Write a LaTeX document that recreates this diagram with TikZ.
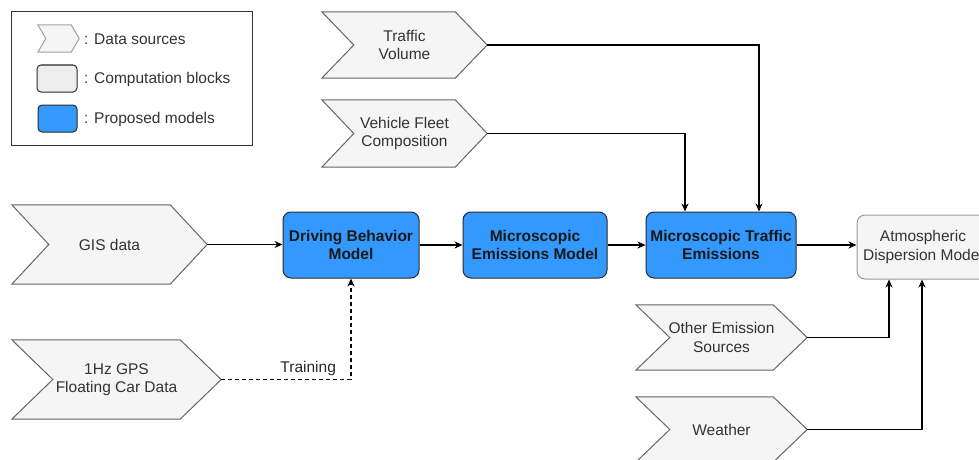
\documentclass[tikz,border=0pt]{standalone}
\usepackage{fontspec}
\setmainfont{Liberation Sans}
\usetikzlibrary{arrows.meta,backgrounds}
\definecolor{blu}{HTML}{3399FF}
\definecolor{chevfill}{HTML}{F5F5F5}
\definecolor{chevdraw}{HTML}{666666}
\definecolor{legchev}{HTML}{A0A0A0}
\definecolor{txt}{HTML}{333333}
\definecolor{modelline}{HTML}{2B2B2B}
\definecolor{compline}{HTML}{9A9A9A}
\newcommand\chevbg[3]{%
  \begin{pgfonlayer}{background}
  \draw[#3] (#1.north west) -- ([xshift=-#2]#1.north east) -- (#1.east)
     -- ([xshift=-#2]#1.south east) -- (#1.south west) -- ([xshift=#2]#1.west) -- cycle;
  \end{pgfonlayer}}
\tikzset{
  base/.style={font=\fontsize{15.5}{18.5}\selectfont, align=center, inner sep=0pt},
  chevtext/.style={base, text=txt},
  chevline/.style={draw=chevdraw, fill=chevfill, line width=1pt},
  legchevline/.style={draw=legchev, fill=chevfill, line width=1pt},
  model/.style={base, draw=modelline, fill=blu, rounded corners=8pt, line width=1pt,
     font=\fontsize{15.5}{18.5}\selectfont\bfseries, text=black!90},
  comp/.style={base, draw=compline, fill=chevfill, rounded corners=8pt, line width=1pt, text=txt},
  conn/.style={line width=1.1pt, -{Stealth[length=8pt,width=7pt]}},
  dashconn/.style={conn, dash pattern=on 4pt off 3pt},
}
\begin{document}
\begin{tikzpicture}[x=1pt,y=-1pt]
\useasboundingbox (0,0) rectangle (979,460);
% legend
\node[draw=black!80, line width=1pt, minimum width=241pt, minimum height=133pt, inner sep=0pt] (legend) at (131.5,78.5) {};
\node[base, minimum width=41pt, minimum height=27pt] (lchev) at (58.5,38.5) {};
\chevbg{lchev}{8}{legchevline}
\node[comp, draw=modelline, fill=black!7, rounded corners=4pt, minimum width=40pt, minimum height=27pt] (lcomp) at (57,78.5) {};
\node[model, rounded corners=4pt, minimum width=39pt, minimum height=27pt] (lmodel) at (57.5,118.5) {};
\node[chevtext, anchor=west] (lt1) at (84,39) {: Data sources};
\node[chevtext, anchor=west] (lt2) at (84,79.5) {: Computation blocks};
\node[chevtext, anchor=west] (lt3) at (84,119) {: Proposed models};
% data sources
\node[chevtext, minimum width=165pt, minimum height=66pt] (tv) at (404.5,45) {Traffic\\Volume};
\chevbg{tv}{32}{chevline}
\node[chevtext, minimum width=165pt, minimum height=67pt] (vfc) at (404.5,133.5) {Vehicle Fleet\\Composition};
\chevbg{vfc}{32}{chevline}
\node[chevtext, minimum width=195pt, minimum height=79pt] (gis) at (109.5,244.5) {GIS data};
\chevbg{gis}{37}{chevline}
\node[chevtext, minimum width=209pt, minimum height=79pt] (gps) at (116.5,379.5) {1Hz GPS\\Floating Car Data};
\chevbg{gps}{41}{chevline}
\node[chevtext, minimum width=171pt, minimum height=65pt] (oes) at (721.5,337.5) {Other Emission\\Sources};
\chevbg{oes}{34}{chevline}
\node[chevtext, minimum width=171pt, minimum height=65pt] (weather) at (721.5,429.5) {Weather};
\chevbg{weather}{34}{chevline}
% models
\node[model, minimum width=136pt, minimum height=66pt] (dbm) at (351,245) {Driving Behavior\\Model};
\node[model, minimum width=144pt, minimum height=66pt] (mem) at (535,245) {Microscopic\\Emissions Model};
\node[model, minimum width=150pt, minimum height=66pt] (mte) at (721,245) {Microscopic Traffic\\Emissions};
\node[comp, minimum width=132pt, minimum height=64pt] (atm) at (923,247) {Atmospheric\\Dispersion Model};
% connectors
\draw[conn] (gis.east) -- (gis.east -| dbm.west);
\draw[conn] (dbm.east) -- (mem.west);
\draw[conn] (mem.east) -- (mte.west);
\draw[conn] (mte.east) -- (mte.east -| atm.west);
\draw[conn] (tv.east) -| ([xshift=38]mte.north);
\draw[conn] (vfc.east) -| ([xshift=-36]mte.north);
\draw[conn] (oes.east) -| ([xshift=-34]atm.south);
\draw[conn] (weather.east) -| ([xshift=-1]atm.south);
\draw[dashconn] (gps.east) -| node[pos=0.335, above=3pt, chevtext, text=black!85] {Training} (dbm.south);
\end{tikzpicture}
\end{document}
